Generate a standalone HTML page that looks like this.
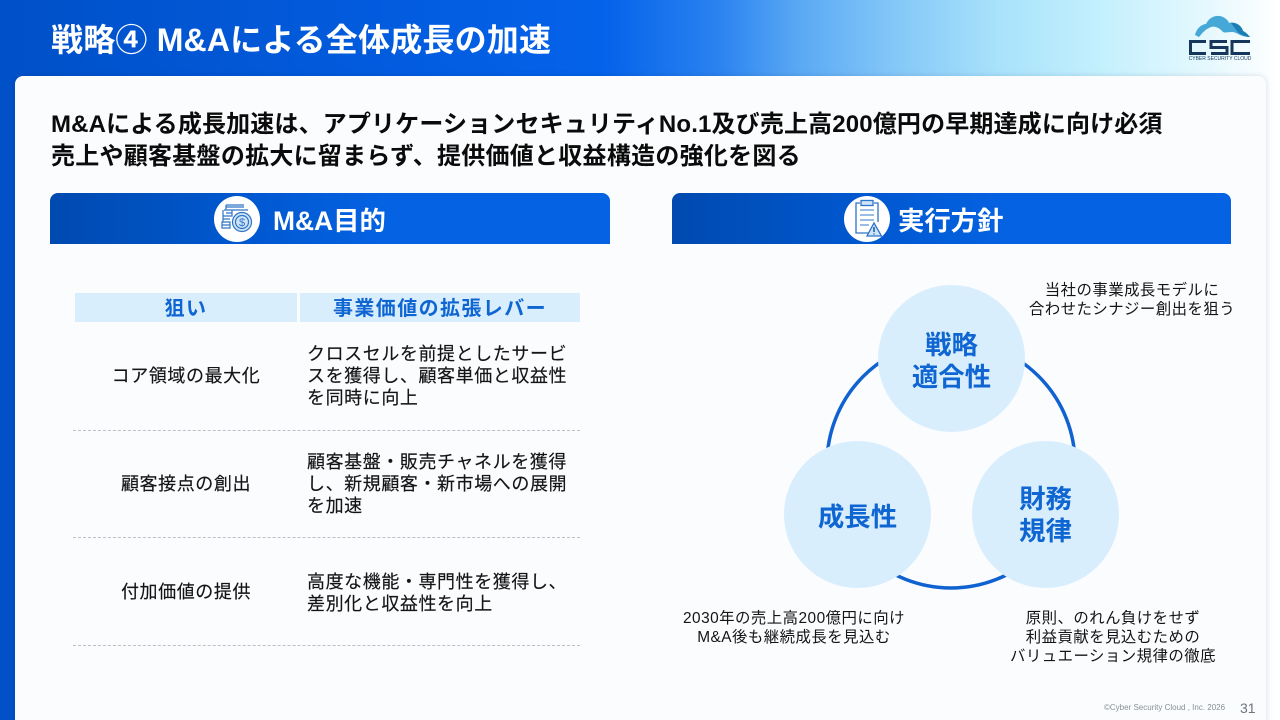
<!DOCTYPE html>
<html lang="ja"><head><meta charset="utf-8">
<style>
html,body{margin:0;padding:0}
#p{position:relative;width:1280px;height:720px;overflow:hidden;background:linear-gradient(90deg,#0050c8 0%,#0462ea 47%,#2a82f0 56%,#5aa9f4 62.5%,#84c8f8 70%,#a8e2fb 78%,#c4f0fd 86%,#e4f8fe 94%,#ffffff 100%);font-family:"Liberation Sans","Noto Sans CJK JP",sans-serif}
.t{position:absolute;white-space:nowrap}
.c{text-align:center;transform:translateX(-50%)}
.b{font-weight:bold}
.card{position:absolute;left:15px;top:76px;width:1251px;height:660px;background:#fafcfe;border-radius:8px;box-shadow:0 0 6px rgba(0,30,80,.15)}
.hd{position:absolute;top:193px;width:560px;height:51px;border-radius:8px 8px 0 0;background:linear-gradient(90deg,#004ab0 0%,#0058d0 35%,#0562e2 60%,#0562e2 100%)}
.ic{position:absolute;top:196px;width:46px;height:46px;border-radius:50%;background:#fff}
.th{position:absolute;top:293px;height:29px;background:#d9eefd;color:#0f66d2;font-weight:bold;font-size:20px;letter-spacing:1.4px;line-height:32px;text-align:center;white-space:nowrap;overflow:hidden}
.dash{position:absolute;left:73px;width:507px;border-top:1px dashed #b9c0c8}
.cell{font-size:18px;letter-spacing:.58px;line-height:22.2px;color:#141414;-webkit-text-stroke:.15px #141414}
.circ{position:absolute;width:147px;height:147px;border-radius:50%;background:#d9eefd}
.ct{color:#0f66d2;font-weight:bold;font-size:26.4px;line-height:32px;text-align:center}
.note{font-size:15.4px;letter-spacing:.48px;line-height:19px;color:#141414;text-align:center}
</style></head><body><div id="p">
<div class="t b" style="left:51px;top:20px;font-size:32px;letter-spacing:.2px;line-height:40px;color:#fff">戦略④ M&amp;Aによる全体成長の加速</div>

<svg style="position:absolute;left:1185px;top:10px" width="70" height="56" viewBox="0 0 70 56">
<path d="M10 25 C12 17 18 14 21 14 C24 7 32 4 38 7 C42 9 44 12 44 13 C50 11 57 16 58 21 C62 23 64 26 65 27 C55 27 52 22 47 22 C43 22 40 23 38 22 C34 17 28 15 24 18 C19 20 16 25 14 27 Z" fill="#46a8d6"/>
<path d="M46 13 C51 12 57 16 58 21 C62 23 64 26 65 27 C60 27 54 24 52 21 Z" fill="#1b7fb4"/>
<g fill="none" stroke="#17365c" stroke-width="3">
<path d="M21 31.5H5.5V43.5H21"/>
<path d="M42 31.5H26V37.5H42V43.5H26"/>
<path d="M65 31.5H47V43.5H65"/>
</g>
<text x="35" y="50" font-size="5" text-anchor="middle" fill="#17365c" font-family="Liberation Sans">CYBER SECURITY CLOUD</text>
</svg>

<div class="card"></div>
<div class="t b" style="left:51px;top:109px;font-size:24px;line-height:32px;color:#0b0b0b;letter-spacing:.15px">M&amp;Aによる成長加速は、アプリケーションセキュリティNo.1及び売上高200億円の早期達成に向け必須</div>
<div class="t b" style="left:51px;top:141px;font-size:24px;line-height:32px;color:#0b0b0b;letter-spacing:.26px">売上や顧客基盤の拡大に留まらず、提供価値と収益構造の強化を図る</div>

<div class="hd" style="left:50px"></div>
<div class="hd" style="left:672px;width:559px"></div>

<div class="ic" style="left:214px"></div>
<svg style="position:absolute;left:214px;top:196px" width="46" height="46" viewBox="0 0 46 46" fill="none" stroke="#2f74c8" stroke-width="1.2">
<path d="M12 9H30M12 9V14H34M10 14H18V20H9V14M9 20H17M9 20V26H16M8 26H16V32H8Z"/>
<path d="M12 11H30M12 17H18M9 23H16M8 29H16"/>
<circle cx="28" cy="26" r="9.5" fill="#cfe4f8"/><circle cx="28" cy="26" r="6.5"/>
<text x="28" y="30" font-size="11" text-anchor="middle" fill="#2f74c8" stroke="none" font-family="Liberation Sans">$</text>
</svg>
<div class="t b" style="left:273px;top:203px;font-size:26.4px;line-height:36px;color:#fff">M&amp;A目的</div>

<div class="ic" style="left:844px"></div>
<svg style="position:absolute;left:844px;top:196px" width="46" height="46" viewBox="0 0 46 46" fill="none" stroke="#2f74c8" stroke-width="1.3">
<path d="M16 7H12V37H26M30 7H34V26"/>
<rect x="17" y="4.5" width="12" height="5" fill="#cfe4f8"/>
<path d="M16 14H30M16 19H30M16 24H30M16 29H25" stroke="#5a94d8"/>
<path d="M30 27L37.5 40H23Z" fill="#cfe4f8"/>
<path d="M30 31V36M30 37.5V38.5" stroke="#1c5fb5" stroke-width="1.6"/>
</svg>
<div class="t b" style="left:898px;top:203px;font-size:26.4px;line-height:36px;color:#fff">実行方針</div>

<div class="th" style="left:75px;width:222px">狙い</div>
<div class="th" style="left:300px;width:280px">事業価値の拡張レバー</div>

<div class="t c cell" style="left:186px;top:365px">コア領域の最大化</div>
<div class="t cell" style="left:307px;top:343px">クロスセルを前提としたサービ<br>スを獲得し、顧客単価と収益性<br>を同時に向上</div>
<div class="dash" style="top:430px"></div>
<div class="t c cell" style="left:186px;top:473px">顧客接点の創出</div>
<div class="t cell" style="left:307px;top:451px">顧客基盤・販売チャネルを獲得<br>し、新規顧客・新市場への展開<br>を加速</div>
<div class="dash" style="top:537px"></div>
<div class="t c cell" style="left:186px;top:581px">付加価値の提供</div>
<div class="t cell" style="left:307px;top:571px">高度な機能・専門性を獲得し、<br>差別化と収益性を向上</div>
<div class="dash" style="top:645px"></div>

<svg style="position:absolute;left:800px;top:320px" width="300" height="290"><circle cx="151" cy="144" r="124" fill="none" stroke="#0f62d0" stroke-width="3.5"/></svg>
<div class="circ" style="left:878px;top:285px"></div>
<div class="circ" style="left:784px;top:441px"></div>
<div class="circ" style="left:972px;top:441px"></div>
<div class="t c ct" style="left:951.5px;top:329px">戦略<br>適合性</div>
<div class="t c ct" style="left:857.5px;top:501px">成長性</div>
<div class="t c ct" style="left:1045.5px;top:483px">財務<br>規律</div>

<div class="t c note" style="left:1132px;top:281px">当社の事業成長モデルに<br>合わせたシナジー創出を狙う</div>
<div class="t c note" style="left:794px;top:609px">2030年の売上高200億円に向け<br>M&amp;A後も継続成長を見込む</div>
<div class="t c note" style="left:1113px;top:609px">原則、のれん負けをせず<br>利益貢献を見込むための<br>バリュエーション規律の徹底</div>

<div class="t" style="left:1104px;top:702px;font-size:8px;line-height:12px;color:#8a8f96">©Cyber Security Cloud , Inc. 2026</div>
<div class="t" style="left:1240px;top:699px;font-size:14px;line-height:18px;color:#6f757c">31</div>
</div></body></html>
